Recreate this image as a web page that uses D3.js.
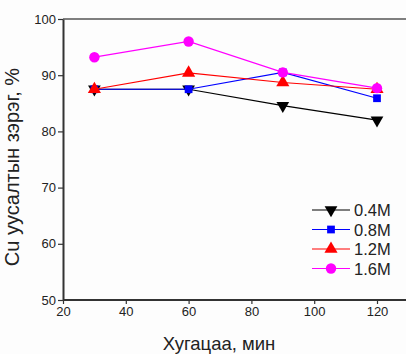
<!DOCTYPE html>
<html><head><meta charset="utf-8">
<script src="https://cdn.jsdelivr.net/npm/d3@7"></script>
<style>body{margin:0;background:#fdfdfd;}svg{display:block;font-family:Arial,"Liberation Sans",sans-serif;}</style>
</head><body>
<svg id="c" width="406" height="354"></svg>
<script>
const times = [30, 60, 90, 120];
const seriesNames = ["0.4M", "0.8M", "1.2M", "1.6M"];
const v04 = [87.5, 87.5, 84.6, 82.0];
const v08 = [87.5, 87.5, 90.5, 85.9];
const v12 = [87.5, 90.4, 88.7, 87.5];
const v16 = [93.2, 96.0, 90.5, 87.7];
const xTicks = [20, 40, 60, 80, 100, 120];
const yTicks = [50, 60, 70, 80, 90, 100];
const xLabel = "Хугацаа, мин";
const yLabel = "Cu уусалтын зэрэг, %";

const colors = ["#000000", "#0000ff", "#ff0000", "#ff00ff"];
const symbols = [d3.symbolTriangle, d3.symbolSquare, d3.symbolTriangle, d3.symbolCircle];
const rot = [180, 0, 0, 0];
const sizes = [70, 60, 75, 85];
const series = [v04, v08, v12, v16];

const svg = d3.select("#c");
const x = d3.scaleLinear().domain([20, 130]).range([63, 408.4]);
const y = d3.scaleLinear().domain([50, 100]).range([300, 19]);

svg.append("line").attr("x1", x(20)).attr("x2", 406).attr("y1", y(100)).attr("y2", y(100))
  .attr("stroke", "#555").attr("stroke-width", 1.5);

const xa = svg.append("g").attr("transform", `translate(0,${y(50)})`)
  .call(d3.axisBottom(x).tickValues(xTicks).tickSize(4).tickPadding(3).tickSizeOuter(0));
const ya = svg.append("g").attr("transform", `translate(${x(20)},0)`)
  .call(d3.axisLeft(y).tickValues(yTicks).tickSize(5).tickPadding(2).tickSizeOuter(0));
[xa, ya].forEach(a => {
  a.select(".domain").attr("stroke", "#333").attr("stroke-width", 2);
  a.selectAll(".tick line").attr("stroke", "#333").attr("stroke-width", 1.2);
  a.selectAll("text").attr("font-size", 13).attr("fill", "#222").attr("font-family", "Arial, 'Liberation Sans', sans-serif");
});
xa.select(".domain").attr("d", `M${x(20)},0H406`);

svg.append("text").attr("x", 219).attr("y", 350).attr("text-anchor", "middle")
  .attr("font-size", 18.5).attr("fill", "#222").text(xLabel);
svg.append("text").attr("transform", "translate(19,167) rotate(-90)").attr("text-anchor", "middle")
  .attr("font-size", 20).attr("fill", "#222").text(yLabel);

const line = d3.line().x((d, i) => x(times[i])).y(d => y(d));
series.forEach((vals, s) => {
  const g = svg.append("g");
  g.append("path").datum(vals).attr("d", line).attr("fill", "none")
    .attr("stroke", colors[s]).attr("stroke-width", 1.2);
  g.selectAll("path.m").data(vals).join("path").attr("class", "m")
    .attr("d", d3.symbol().type(symbols[s]).size(sizes[s]))
    .attr("transform", (d, i) => `translate(${x(times[i])},${y(d)}) rotate(${rot[s]})`)
    .attr("fill", colors[s]);
});

const lg = svg.append("g");
seriesNames.forEach((n, s) => {
  const yy = 210 + s * 19.5;
  lg.append("line").attr("x1", 312).attr("x2", 350).attr("y1", yy).attr("y2", yy)
    .attr("stroke", colors[s]).attr("stroke-width", 1.2);
  lg.append("path").attr("d", d3.symbol().type(symbols[s]).size(sizes[s]))
    .attr("transform", `translate(331,${yy}) rotate(${rot[s]})`).attr("fill", colors[s]);
  lg.append("text").attr("x", 354).attr("y", yy + 6).attr("font-size", 16.5).attr("fill", "#222").text(n);
});
</script>
</body></html>
